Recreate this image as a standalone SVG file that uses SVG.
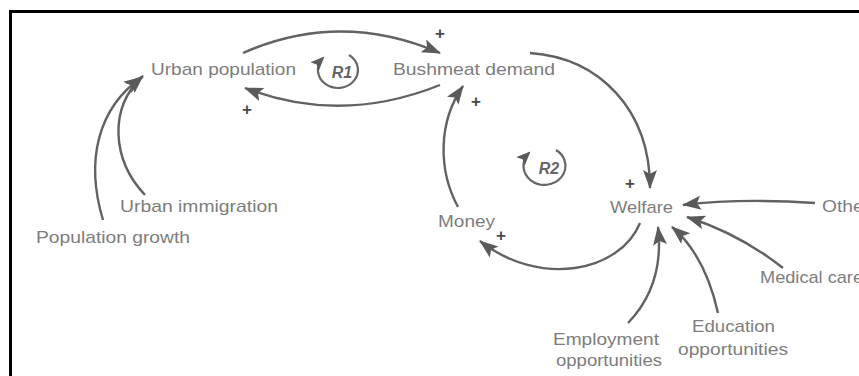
<svg xmlns="http://www.w3.org/2000/svg" width="859" height="376" viewBox="0 0 859 376">
  <style>
    .lbl { font-family: "Liberation Sans", Arial, sans-serif; font-size: 17px; fill: #7d7d7d; }
    .sign { font-family: "Liberation Sans", Arial, sans-serif; font-size: 17px; font-weight: bold; fill: #4a4a4a; }
    .loop { font-family: "Liberation Sans", Arial, sans-serif; font-size: 16px; font-style: italic; font-weight: bold; fill: #666; }
    .link { fill: none; stroke: #626262; stroke-width: 2.4; marker-end: url(#head); }
    .ring { fill: none; stroke: #666; stroke-width: 2.2; marker-end: url(#smallhead); }
  </style>
  <defs>
    <marker id="head" markerUnits="userSpaceOnUse" markerWidth="22" markerHeight="16" refX="18" refY="7" orient="auto">
      <path d="M0,0 L19,7 L0,14 L4,7 z" fill="#5a5a5a"/>
    </marker>
    <marker id="smallhead" markerUnits="userSpaceOnUse" markerWidth="16" markerHeight="14" refX="12" refY="6" orient="auto">
      <path d="M0,0 L14,6 L0,12 L3,6 z" fill="#5a5a5a"/>
    </marker>
  </defs>

  <rect width="859" height="376" fill="#fff"/>
  <!-- frame: top and left edges -->
  <path d="M10.5,376 L10.5,11.5 L859,11.5" fill="none" stroke="#000" stroke-width="3"/>

  <!-- causal links -->
  <g id="connectors">
    <path class="link" d="M243,53 Q340,10 440,53"/>
    <path class="link" d="M440,85 Q340,125 245,88"/>
    <path class="link" d="M530,53 C600,58 650,110 650,188"/>
    <path class="link" d="M640,223 C620,272 540,288 480,241"/>
    <path class="link" d="M458,207 C438,170 438,122 463,86"/>
    <path class="link" d="M145,195 C112,160 108,108 143,76"/>
    <path class="link" d="M103,220 C85,160 98,108 142,77"/>
    <path class="link" d="M815,203 Q740,198 683,205"/>
    <path class="link" d="M783,268 Q740,234 687,217"/>
    <path class="link" d="M718,313 Q705,255 672,227"/>
    <path class="link" d="M628,323 C655,295 662,262 658,227"/>
  </g>

  <!-- polarity signs -->
  <g id="signs">
    <text class="sign" x="435" y="39">+</text>
    <text class="sign" x="242" y="115">+</text>
    <text class="sign" x="471" y="107">+</text>
    <text class="sign" x="625" y="189">+</text>
    <text class="sign" x="496" y="241">+</text>
  </g>

  <!-- reinforcing loop R1 -->
  <g id="loop-r1">
    <path class="ring" d="M349,55 A20,18 0 1 1 323,58"/>
    <text class="loop" x="342" y="78" text-anchor="middle">R1</text>
  </g>

  <!-- reinforcing loop R2 -->
  <g id="loop-r2">
    <path class="ring" d="M556,150 A21,19 0 1 1 529,153"/>
    <text class="loop" x="549" y="174" text-anchor="middle">R2</text>
  </g>

  <g id="urban-population"><text class="lbl" x="151" y="75" textLength="145" lengthAdjust="spacingAndGlyphs">Urban population</text></g>
  <g id="bushmeat-demand"><text class="lbl" x="393" y="75" textLength="162" lengthAdjust="spacingAndGlyphs">Bushmeat demand</text></g>
  <g id="urban-immigration"><text class="lbl" x="120" y="212" textLength="158" lengthAdjust="spacingAndGlyphs">Urban immigration</text></g>
  <g id="population-growth"><text class="lbl" x="36" y="243" textLength="154" lengthAdjust="spacingAndGlyphs">Population growth</text></g>
  <g id="money"><text class="lbl" x="438" y="227" textLength="57" lengthAdjust="spacingAndGlyphs">Money</text></g>
  <g id="welfare"><text class="lbl" x="610" y="213" textLength="63" lengthAdjust="spacingAndGlyphs">Welfare</text></g>
  <g id="other"><text class="lbl" x="822" y="212" textLength="48" lengthAdjust="spacingAndGlyphs">Other</text></g>
  <g id="medical-care"><text class="lbl" x="760" y="283" textLength="103" lengthAdjust="spacingAndGlyphs">Medical care</text></g>
  <g id="employment-opportunities">
    <text class="lbl" x="553" y="345" textLength="106" lengthAdjust="spacingAndGlyphs">Employment</text>
    <text class="lbl" x="556" y="366" textLength="106" lengthAdjust="spacingAndGlyphs">opportunities</text>
  </g>
  <g id="education-opportunities">
    <text class="lbl" x="692" y="332" textLength="83" lengthAdjust="spacingAndGlyphs">Education</text>
    <text class="lbl" x="678" y="355" textLength="110" lengthAdjust="spacingAndGlyphs">opportunities</text>
  </g>
</svg>
